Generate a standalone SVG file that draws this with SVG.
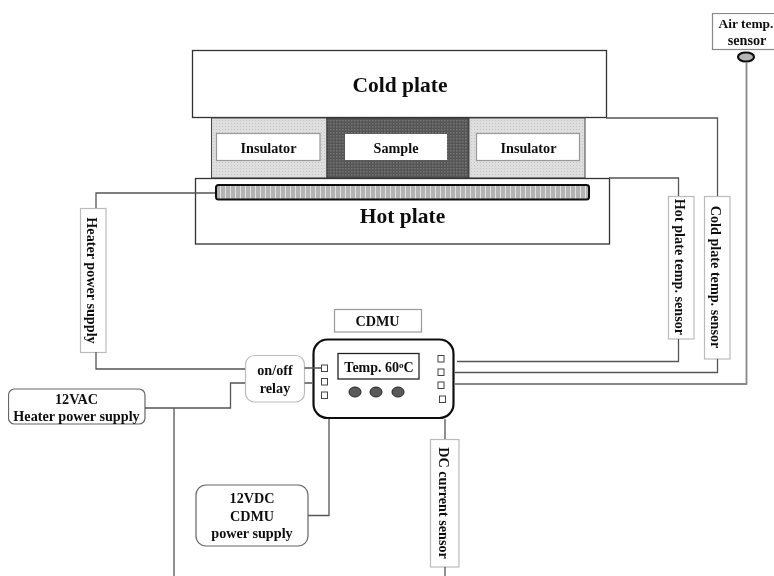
<svg xmlns="http://www.w3.org/2000/svg" width="774" height="576" viewBox="0 0 774 576">
<style>
text{font-family:"Liberation Serif","Times New Roman",serif;font-weight:700;fill:#111;text-anchor:middle}
.t{font-size:14.2px}.big{font-size:21.5px}
.box{fill:#fff;stroke:#666;stroke-width:1.2}
.lbl{fill:#fff;stroke:#bbb;stroke-width:1.2}
.blk{fill:#fff;stroke:#333;stroke-width:1.3}
.w{fill:none;stroke:#555;stroke-width:1.3}
.w2{fill:none;stroke:#888;stroke-width:1.8}
.sq{fill:#fff;stroke:#444;stroke-width:1}
.btn{fill:#5a5a5a;stroke:#222;stroke-width:1}
</style>
<defs>
<filter id="soft" x="0" y="0" width="100%" height="100%"><feGaussianBlur stdDeviation="0.35"/></filter>
<pattern id="ins" width="3" height="3" patternUnits="userSpaceOnUse"><rect width="3" height="3" fill="#dedede"/><rect width="1" height="1" fill="#c4c4c4"/></pattern>
<pattern id="smp" width="3" height="3" patternUnits="userSpaceOnUse"><rect width="3" height="3" fill="#555"/><rect width="1.5" height="1.5" fill="#777"/></pattern>
<pattern id="htr" width="5" height="5" patternUnits="userSpaceOnUse"><rect width="5" height="5" fill="#b4b4b4"/><rect width="1" height="5" fill="#e2e2e2"/></pattern>
</defs>
<rect width="774" height="576" fill="#fff"/>
<g filter="url(#soft)">
<g id="cold-plate"><rect class="blk" x="192.500" y="50.500" width="414" height="67"/><text class="big" x="400" y="92">Cold plate</text></g>
<g id="insulator-left"><rect x="211.500" y="118" width="115.500" height="60" fill="url(#ins)" stroke="#444"/><rect class="box" x="216.500" y="133.500" width="103.500" height="27" style="stroke:#999"/><text class="t" x="268.500" y="152.500">Insulator</text></g>
<g id="sample"><rect x="327" y="118" width="142" height="60" fill="url(#smp)" stroke="#333"/><rect x="345" y="134" width="102" height="26" fill="#fff"/><text class="t" x="396" y="152.500">Sample</text></g>
<g id="insulator-right"><rect x="469" y="118" width="116" height="60" fill="url(#ins)" stroke="#444"/><rect class="box" x="476.500" y="133.500" width="103" height="27" style="stroke:#999"/><text class="t" x="528.500" y="152.500">Insulator</text></g>
<g id="hot-plate"><rect class="blk" x="195.500" y="178.500" width="414" height="65.500"/><text class="big" x="402.500" y="223">Hot plate</text></g>
<g id="heater"><rect x="216" y="185" width="373" height="14.500" rx="2.500" fill="url(#htr)" stroke="#111" stroke-width="2"/></g>
<g id="air-temp-sensor"><rect class="box" x="712.500" y="13.500" width="64" height="36" style="stroke:#888"/><text x="746" y="28" style="font-size:13.400px">Air temp.</text><text class="t" x="747" y="45">sensor</text><ellipse cx="746" cy="57" rx="8" ry="4.500" fill="#b5b5b5" stroke="#111" stroke-width="2.200"/></g>
<g id="heater-label"><rect class="lbl" x="80.500" y="208.500" width="25.500" height="144"/><text class="t" transform="translate(87,280.500) rotate(90)">Heater power supply</text></g>
<g id="hot-sensor"><rect class="lbl" x="668.500" y="196.500" width="25.500" height="142.500"/><text class="t" transform="translate(675,267) rotate(90)">Hot plate temp. sensor</text></g>
<g id="cold-sensor"><rect class="lbl" x="704.500" y="196.500" width="25.500" height="162.500"/><text class="t" transform="translate(711,277) rotate(90)">Cold plate temp. sensor</text></g>
<g id="cdmu-label"><rect class="box" x="334.500" y="309.500" width="87" height="22.500" style="stroke:#999"/><text class="t" x="377.500" y="326">CDMU</text></g>
<g id="relay"><rect class="lbl" x="245.500" y="355.500" width="59" height="46.500" rx="9"/><text class="t" x="275" y="375">on/off</text><text class="t" x="275" y="393">relay</text></g>
<g id="cdmu"><rect x="313.500" y="339.500" width="140" height="78.500" rx="14" fill="#fff" stroke="#111" stroke-width="2.200"/>
<rect x="338" y="353.500" width="81" height="25.500" fill="#fff" stroke="#222" stroke-width="1.300"/><text x="379" y="371.500" style="font-size:14px">Temp. 60<tspan dy="-4" style="font-size:9px">o</tspan><tspan dy="4">C</tspan></text>
<ellipse class="btn" cx="355" cy="392" rx="6" ry="5"/><ellipse class="btn" cx="376" cy="392" rx="6" ry="5"/><ellipse class="btn" cx="398" cy="392" rx="6" ry="5"/>
<rect class="sq" x="321.500" y="365" width="6" height="6.500"/><rect class="sq" x="321.500" y="378.500" width="6" height="6.500"/><rect class="sq" x="321.500" y="392" width="6" height="6.500"/>
<rect class="sq" x="438" y="355.500" width="6" height="6.500"/><rect class="sq" x="438" y="369" width="6" height="6.500"/><rect class="sq" x="438" y="382" width="6" height="6.500"/><rect class="sq" x="439.500" y="396" width="6" height="6.500"/></g>
<g id="vac-supply"><rect class="box" x="8.500" y="389" width="136.500" height="35" rx="6"/><text class="t" x="76.500" y="404">12VAC</text><text class="t" x="76.500" y="421">Heater power supply</text></g>
<g id="vdc-supply"><rect class="box" x="196" y="485" width="112" height="61" rx="10"/><text class="t" x="252" y="503">12VDC</text><text class="t" x="252" y="521">CDMU</text><text class="t" x="252" y="538">power supply</text></g>
<g id="dc-sensor"><rect class="lbl" x="430.500" y="439.500" width="28.500" height="127.500"/><text class="t" transform="translate(439,503) rotate(90)">DC current sensor</text></g>
<g id="connectors">
<path class="w" d="M606 118H717.500V196M717.500 359V372.500H455"/>
<path class="w" d="M609 178H678.500V196M678.500 339V361.500H457"/>
<path class="w2" d="M746.500 62V384H455"/>
<path class="w" d="M215 193H96V208M96 352V369H245"/>
<path class="w" d="M304.500 368H321.500M304.500 383H312"/>
<path class="w" d="M245 383H230.500V408H145M174 408V576"/>
<path class="w" d="M329 419V515.500H308"/>
<path class="w" d="M445 419V439M445 567V576"/>
</g>
</g>
</svg>
